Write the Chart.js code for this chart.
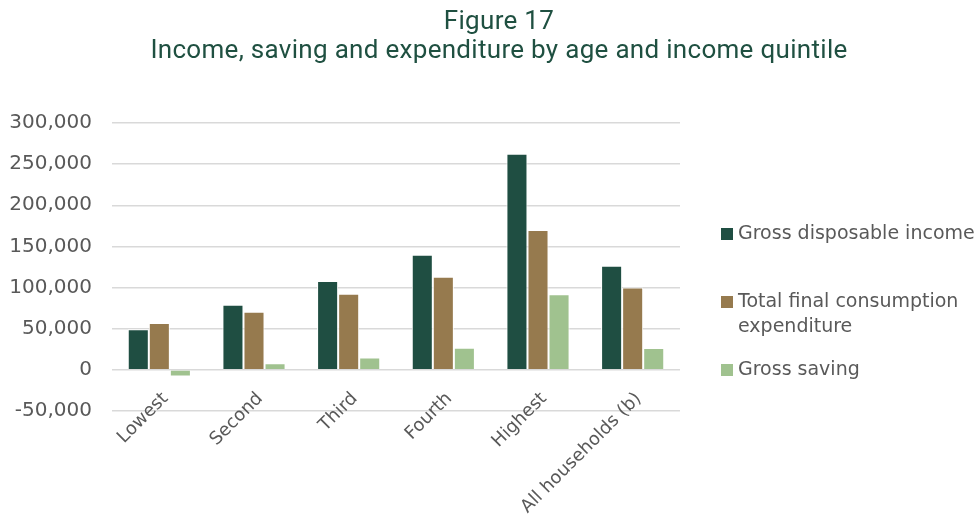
<!DOCTYPE html>
<html>
<head>
<meta charset="utf-8">
<script src="https://cdn.jsdelivr.net/npm/chart.js@4"></script>
<style>
  body { margin: 0; background: #fff; }
  #wrap { width: 975px; height: 515px; }
</style>
</head>
<body>
<div id="wrap"><canvas id="figure17"></canvas></div>
<script>
var titleLines = ["Figure 17", "Income, saving and expenditure by age and income quintile"];
var quintiles = ["Lowest", "Second", "Third", "Fourth", "Highest", "All households (b)"];
var grossIncome = [49500, 79000, 108000, 140000, 262500, 126500];
var consumption = [57000, 70500, 92500, 113000, 170000, 100000];
var grossSaving = [-8000, 8000, 15000, 27000, 92000, 26500];
var legendLabels = [["Gross disposable income"], ["Total final consumption", "expenditure"], ["Gross saving"]];

var textGrey = "#595959";

// title, legend and category labels drawn by hand so they sit where Excel put them
// (Excel hangs the category labels off the zero line, not off the bottom of the plot)
var titleAndLegend = {
  id: "titleAndLegend",
  afterDraw: function (chart) {
    var c = chart.ctx;
    c.save();
    c.fillStyle = "#1f5041";
    c.font = "26px Roboto";
    c.letterSpacing = "0.3px";
    c.textAlign = "center";
    c.textBaseline = "middle";
    c.fillText(titleLines[0], 499, 22);
    c.fillText(titleLines[1], 499, 51);
    c.letterSpacing = "0px";

    c.font = "19px 'DejaVu Sans'";
    c.textAlign = "left";
    chart.data.datasets.forEach(function (ds, i) {
      var y = 234 + i * 68;
      c.fillStyle = ds.backgroundColor;
      c.fillRect(721, y - 6, 12, 12);
      c.fillStyle = textGrey;
      legendLabels[i].forEach(function (line, j) {
        c.fillText(line, 738, y + j * 25);
      });
    });

    var xs = chart.scales.x;
    var y0 = chart.scales.y.getPixelForValue(0);
    c.font = "18px 'DejaVu Sans'";
    c.textAlign = "right";
    c.fillStyle = textGrey;
    quintiles.forEach(function (lab, i) {
      c.save();
      c.translate(xs.getPixelForTick(i) + 6, y0 + 26);
      c.rotate(-Math.PI / 4);
      c.fillText(lab, 0, 0);
      c.restore();
    });
    c.restore();
  }
};

var ctx = document.getElementById("figure17");

new Chart(ctx, {
  type: "bar",
  data: {
    labels: quintiles,
    datasets: [
      {
        label: "Gross disposable income",
        data: grossIncome,
        backgroundColor: "#1f4e42",
      },
      {
        label: "Total final consumption expenditure",
        data: consumption,
        backgroundColor: "#967a4e",
      },
      {
        label: "Gross saving",
        data: grossSaving,
        backgroundColor: "#a0c28f",
      },
    ],
  },
  options: {
    responsive: true,
    maintainAspectRatio: false,
    animation: false,
    layout: {
      padding: { top: 123, right: 295, left: 0, bottom: 0 }
    },
    datasets: {
      bar: {
        barPercentage: 1,
        categoryPercentage: 0.667,
        borderWidth: 1,
        borderColor: "#ffffff"
      }
    },
    plugins: {
      legend: { display: false },
      title: { display: false },
      tooltip: { enabled: false }
    },
    scales: {
      x: {
        grid: { display: false },
        border: { display: false },
        ticks: { display: false },
        afterFit: function (scale) { scale.height = 104; }
      },
      y: {
        min: -50000,
        max: 300000,
        grid: { color: "#d9d9d9", lineWidth: 1.5, drawTicks: false },
        border: { display: false },
        ticks: {
          stepSize: 50000,
          color: textGrey,
          padding: 20,
          font: { family: "DejaVu Sans", size: 20 },
          callback: function (value) { return value.toLocaleString("en-US"); } // thousands separator
        },
        afterFit: function (scale) { scale.width = 112; }
      }
    }
  },
  plugins: [titleAndLegend]
});
</script>
</body>
</html>
